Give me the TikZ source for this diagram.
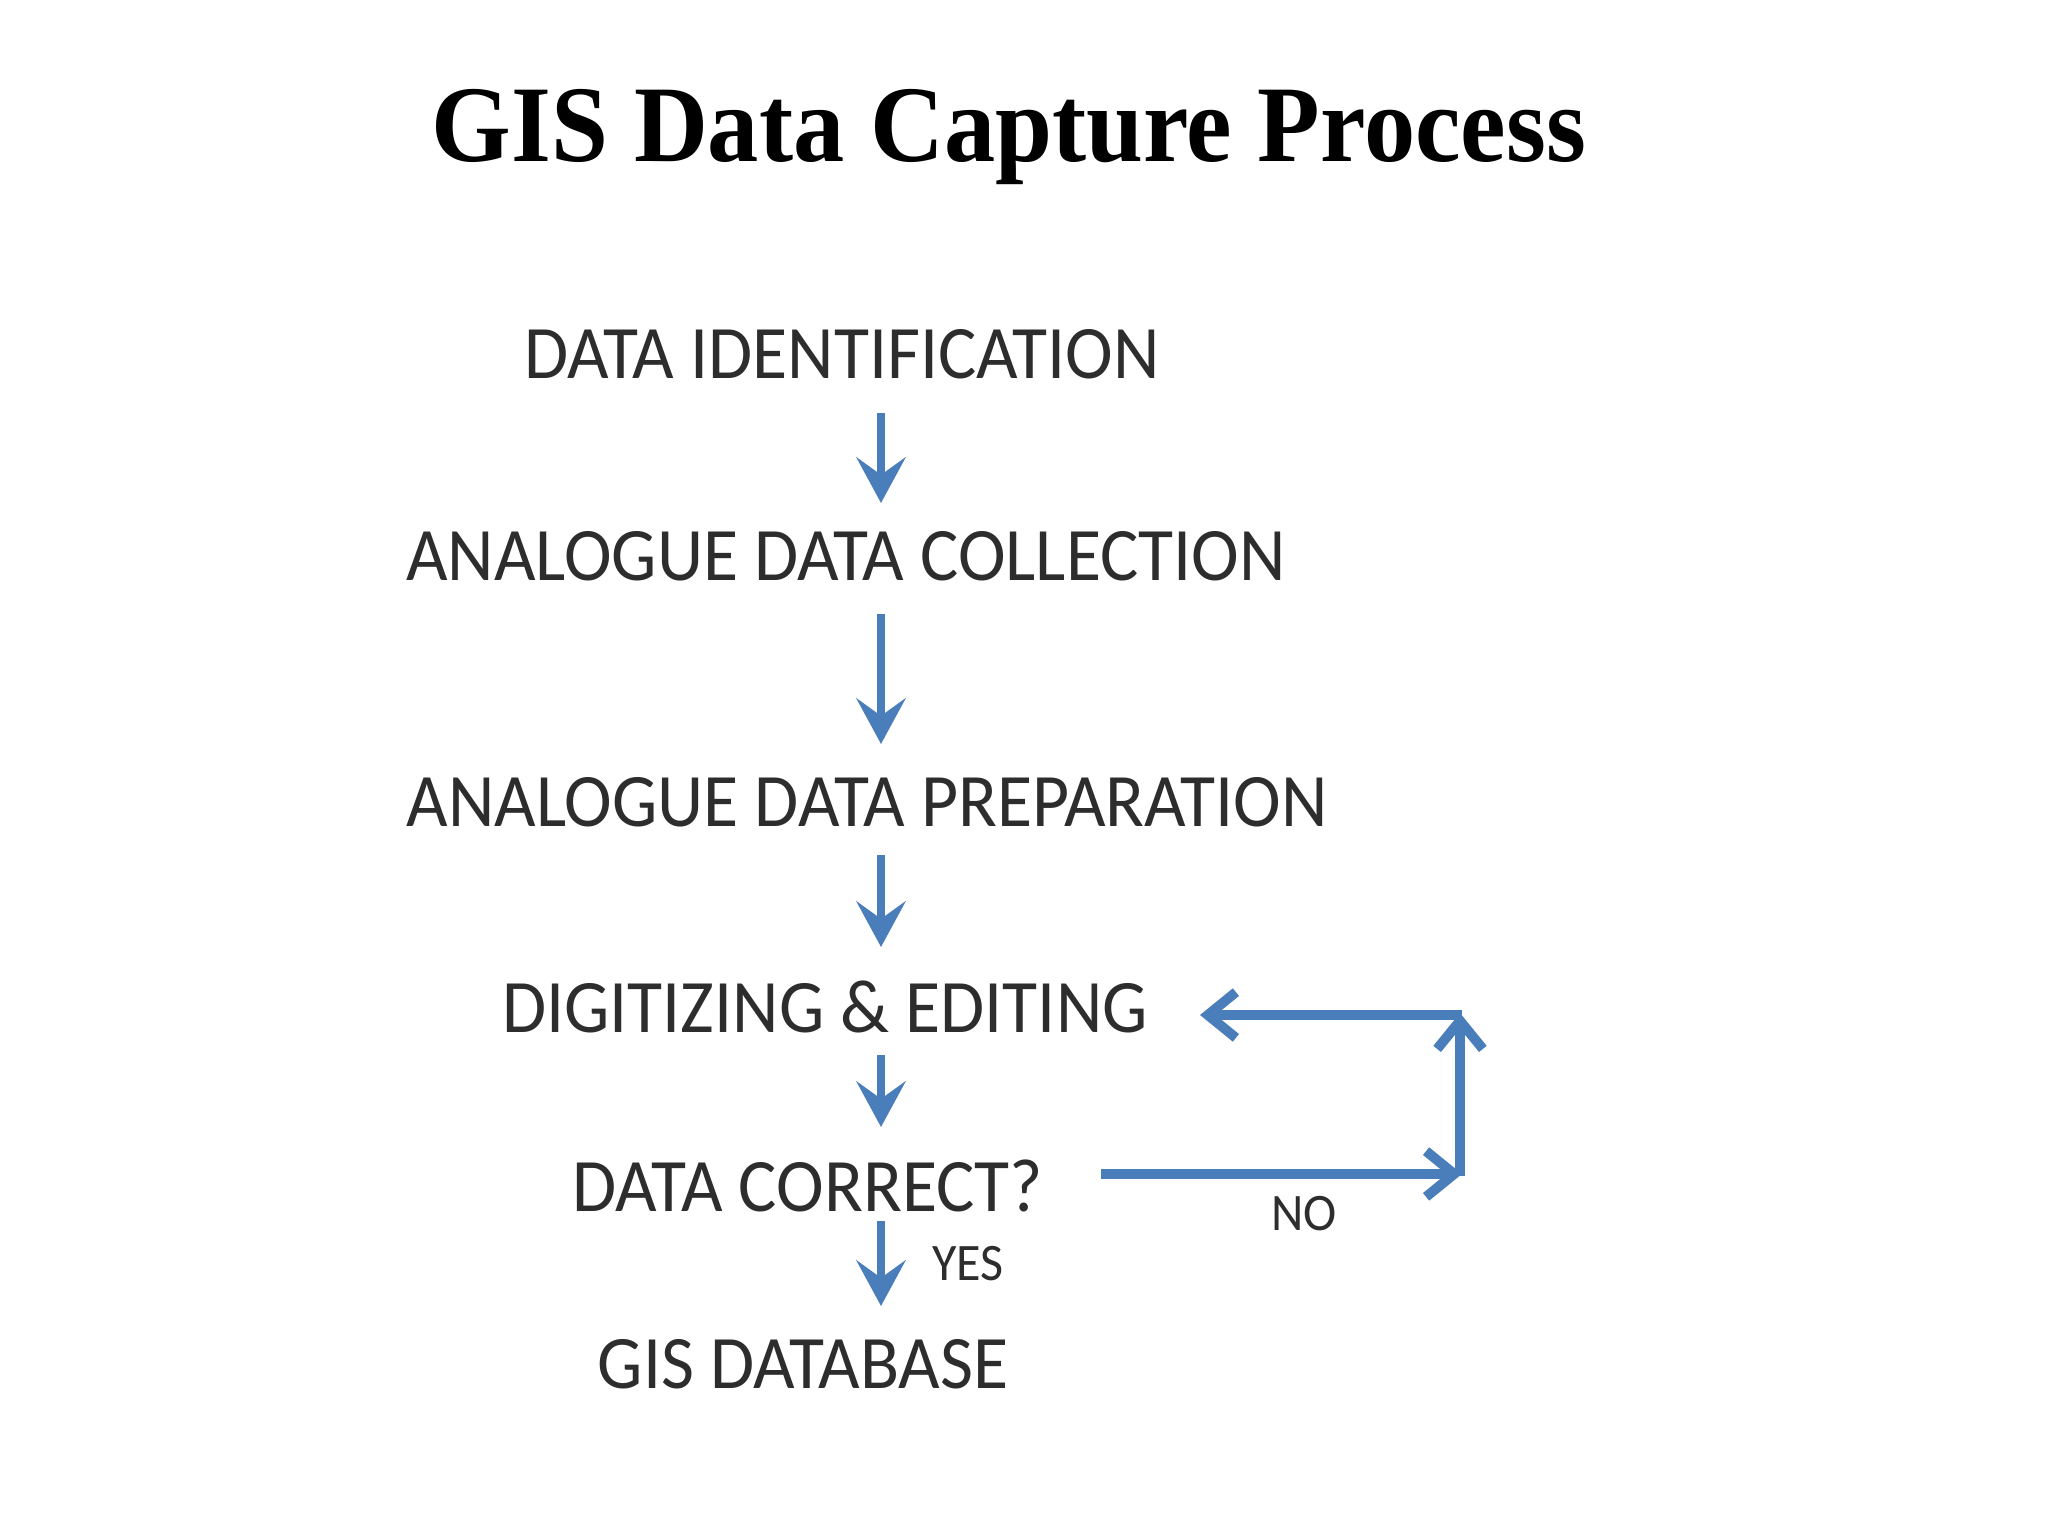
\documentclass[tikz,border=0pt]{standalone}
\usepackage{fontspec}
\setmainfont{Liberation Serif}
\newfontfamily\lblfont{Carlito}
\usetikzlibrary{arrows.meta}
\definecolor{arrblue}{RGB}{74,126,187}
\definecolor{txtgray}{RGB}{45,45,45}
\newcommand{\sq}[1]{\scalebox{0.95}[1]{#1}}
\tikzset{
  lbl/.style={font=\lblfont\fontsize{21.5}{24}\selectfont, text=txtgray, anchor=base, inner sep=0pt},
  small/.style={font=\lblfont\fontsize{15}{18}\selectfont, text=txtgray, anchor=base, inner sep=0pt},
  varrow/.style={draw=arrblue, line width=2.4pt, -{Stealth[length=13pt,width=14pt,inset=5pt]}},
  loop/.style={draw=arrblue, line width=2.8pt, -{Straight Barb[length=8pt,width=13pt,line width=2.8pt]}}
}
\begin{document}
\begin{tikzpicture}
\useasboundingbox (0,0) rectangle (20.48,-15.36);
\fill[white] (0,0) rectangle (20.48,-15.36);
\node[anchor=base, inner sep=0pt, font=\bfseries\fontsize{31}{36}\selectfont] (title) at (10.09,-1.62) {\scalebox{0.94}[1]{GIS Data Capture Process}};
\node[lbl] (id) at (8.42,-3.79) {\sq{DATA IDENTIFICATION}};
\node[lbl] (coll) at (8.46,-5.81) {\sq{ANALOGUE DATA COLLECTION}};
\node[lbl] (prep) at (8.67,-8.27) {\sq{ANALOGUE DATA PREPARATION}};
\node[lbl] (dig) at (8.25,-10.32) {\sq{DIGITIZING \& EDITING}};
\node[lbl] (corr) at (8.08,-12.11) {\sq{DATA CORRECT?}};
\node[lbl] (db) at (8.03,-13.88) {\sq{GIS DATABASE}};
\node[small] (yes) at (9.68,-12.80) {\sq{YES}};
\node[small] (no) at (13.04,-12.30) {\sq{NO}};
% arrow end points
\coordinate (a1s) at (8.81,-4.13); \coordinate (a1e) at (8.81,-5.03);
\coordinate (a2s) at (8.81,-6.14); \coordinate (a2e) at (8.81,-7.44);
\coordinate (a3s) at (8.81,-8.55); \coordinate (a3e) at (8.81,-9.47);
\coordinate (a4s) at (8.81,-10.55); \coordinate (a4e) at (8.81,-11.27);
\coordinate (a5s) at (8.81,-12.21); \coordinate (a5e) at (8.81,-13.06);
\coordinate (n1) at (11.01,-11.74); \coordinate (n2) at (14.62,-11.74);
\coordinate (c1) at (14.60,-11.76); \coordinate (c2) at (14.60,-10.13);
\coordinate (t1) at (14.62,-10.15); \coordinate (t2) at (12.00,-10.15);
\draw[varrow] (a1s) -- (a1e);
\draw[varrow] (a2s) -- (a2e);
\draw[varrow] (a3s) -- (a3e);
\draw[varrow] (a4s) -- (a4e);
\draw[varrow] (a5s) -- (a5e);
\draw[loop] (n1) -- (n2);
\draw[loop] (c1) -- (c2);
\draw[loop] (t1) -- (t2);
\end{tikzpicture}
\end{document}
